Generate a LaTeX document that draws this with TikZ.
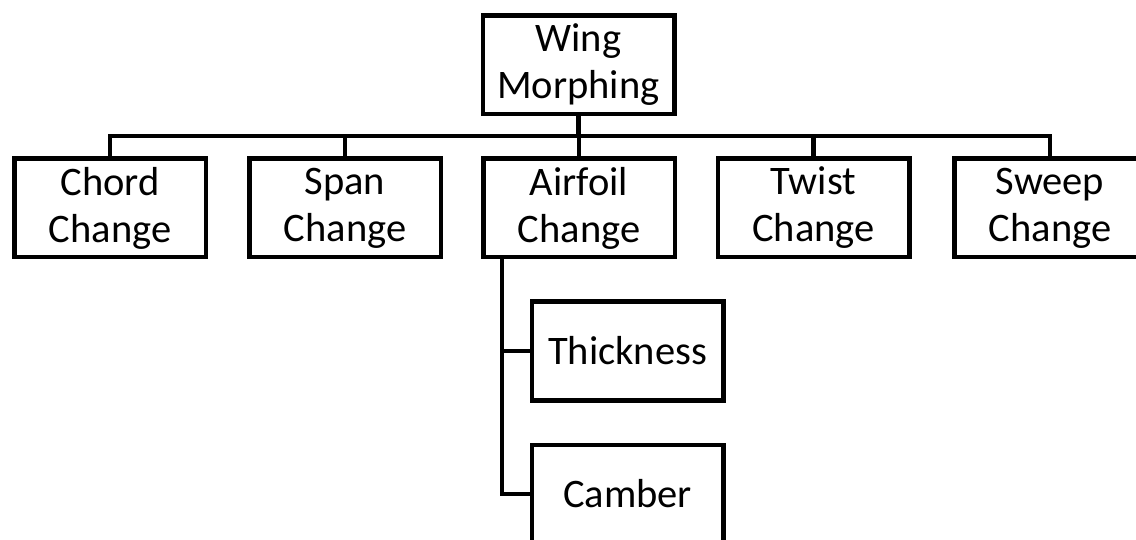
\documentclass[tikz,border=0pt]{standalone}
\usepackage{fontspec}
\setmainfont{Carlito}
\begin{document}
\begin{tikzpicture}[x=1pt,y=-1pt,
  box/.style={draw=black,line width=4.5pt,fill=white,minimum width=191.5pt,minimum height=98.5pt,
    inner sep=0pt,align=center,font=\fontsize{40.5}{47}\selectfont},
  link/.style={draw=black,line width=4.5pt}]
\clip (0,0) rectangle (1136,540);
\fill[white] (0,0) rectangle (1136,540);
\node[box] (wing) at (578.5,65) {Wing\\Morphing};
\node[box] (chord) at (110,208) {Chord\\Change};
\node[box] (span) at (345,208) {Span\\Change};
\node[box] (air) at (579,208) {Airfoil\\Change};
\node[box] (twist) at (813.5,208) {Twist\\Change};
\node[box] (sweep) at (1050,208) {Sweep\\Change};
\node[box] (thick) at (627.5,351) {Thickness};
\node[box] (camber) at (627.5,494) {Camber};
\coordinate (bus) at (0,136);
\coordinate (trunk) at (502,0);
\draw[link] (wing.south) -- (wing.south |- bus);
\draw[link] (chord.north) -- (chord.north |- bus) -- (sweep.north |- bus) -- (sweep.north);
\draw[link] (span.north) -- (span.north |- bus);
\draw[link] (air.north) -- (air.north |- bus);
\draw[link] (twist.north) -- (twist.north |- bus);
\draw[link] (trunk |- air.south) -- (trunk |- camber.west) -- (camber.west);
\draw[link] (trunk |- thick.west) -- (thick.west);
\end{tikzpicture}
\end{document}
